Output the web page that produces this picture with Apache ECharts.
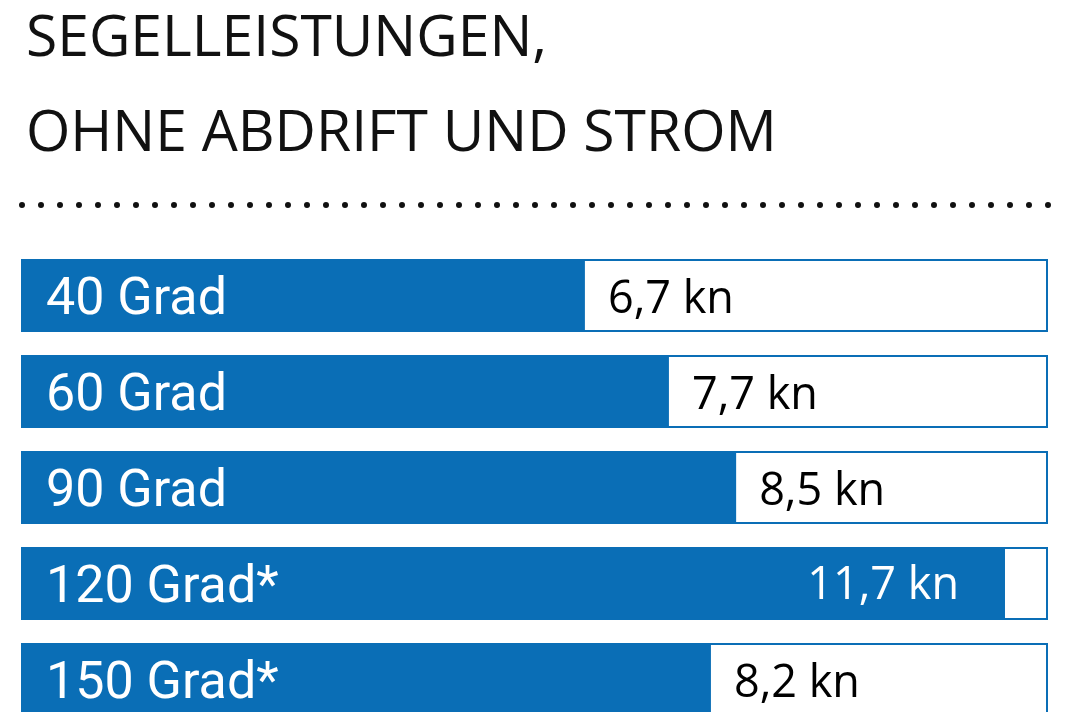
<!DOCTYPE html>
<html>
<head>
<meta charset="utf-8">
<script src="https://cdn.jsdelivr.net/npm/echarts@6/dist/echarts.min.js"></script>
<style>
html,body{margin:0;padding:0;background:#fff;}
#chart{width:1068px;height:712px;}
</style>
</head>
<body>
<div id="chart"></div>
<script>
const titleLines = ['SEGELLEISTUNGEN,', 'OHNE ABDRIFT UND STROM'];
const categories = ['40 Grad', '60 Grad', '90 Grad', '120 Grad*', '150 Grad*'];
const speeds = [6.7, 7.7, 8.5, 11.7, 8.2];
const unit = 'kn';
const axisMax = 12.2;

const BLUE = '#0a6eb6';
const fmt = v => String(v).replace('.', ',') + ' ' + unit;

const chart = echarts.init(document.getElementById('chart'), null, {renderer: 'canvas'});

const barData = speeds.map(v => {
  const inside = v / axisMax > 0.9;
  return {
    value: v,
    label: inside
      ? {position: 'insideRight', distance: 46, color: '#fff', offset: [0, 3]}
      : {position: 'right', distance: 23, color: '#000', offset: [0, 5]}
  };
});

chart.setOption({
  animation: false,
  backgroundColor: '#fff',
  title: {
    text: titleLines.join('\n'),
    left: 21,
    top: -13,
    textStyle: {
      fontFamily: 'Open Sans',
      fontWeight: 'normal',
      fontSize: 57,
      lineHeight: 95,
      color: '#111'
    }
  },
  graphic: [{
    type: 'line',
    shape: {x1: 22, y1: 205, x2: 1049, y2: 205},
    style: {stroke: '#111', lineWidth: 6, lineCap: 'round', lineDash: [0, 19]}
  }],
  grid: {left: 22, right: 21, top: 247.5, height: 480, containLabel: false, outerBoundsMode: 'none'},
  xAxis: {
    type: 'value', min: 0, max: axisMax, show: false
  },
  yAxis: {
    type: 'category',
    data: categories,
    inverse: true,
    z: 10,
    axisLine: {show: false},
    axisTick: {show: false},
    splitLine: {show: false},
    axisLabel: {
      inside: true,
      margin: 24,
      formatter: v => '{l|' + v + '}',
      rich: {
        l: {
          color: '#fff',
          fontFamily: 'Roboto',
          fontSize: 52,
          lineHeight: 52,
          padding: [11, 0, 0, 0]
        }
      }
    }
  },
  series: [{
    type: 'bar',
    data: barData,
    barWidth: 71,
    itemStyle: {color: BLUE},
    showBackground: true,
    backgroundStyle: {color: '#fff', borderColor: BLUE, borderWidth: 2},
    label: {
      show: true,
      formatter: p => fmt(p.value),
      fontFamily: 'Open Sans',
      fontSize: 45
    }
  }]
});
</script>
</body>
</html>
